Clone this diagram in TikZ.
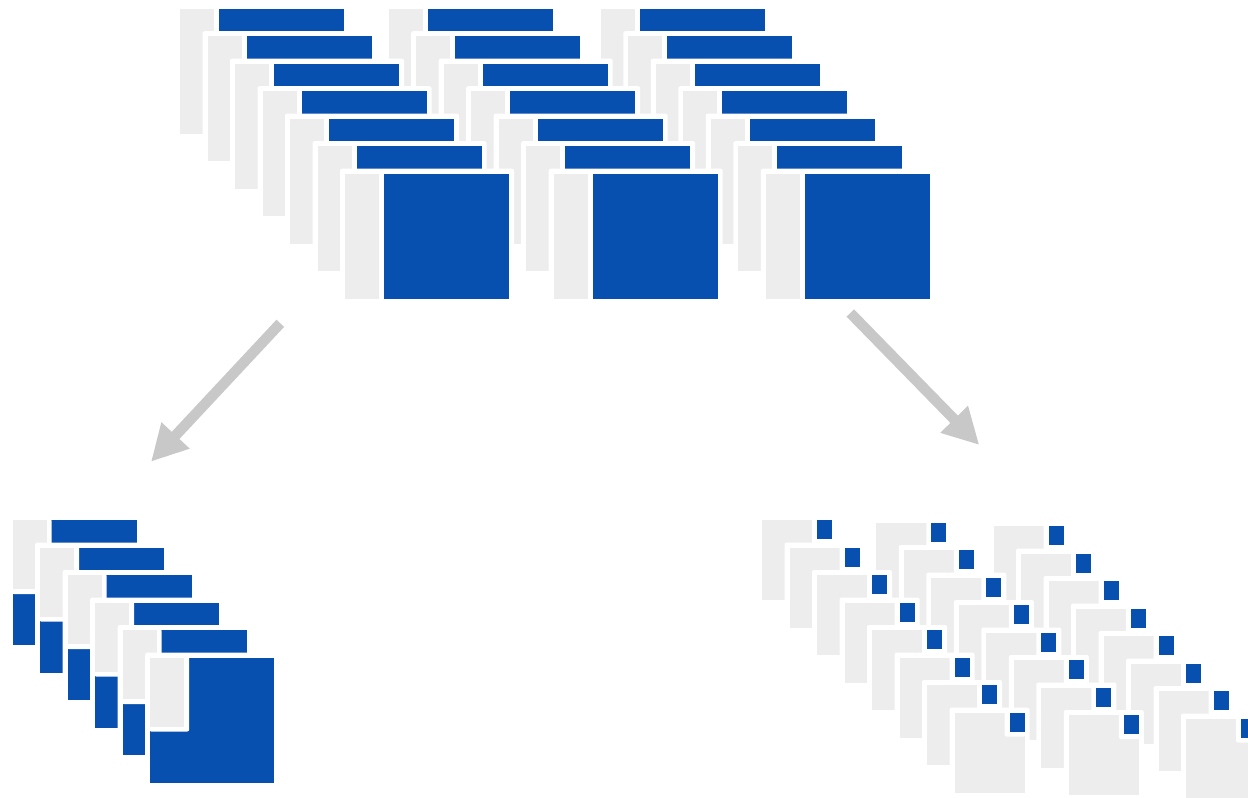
\documentclass[tikz,border=0pt]{standalone}
\usetikzlibrary{arrows.meta}
\definecolor{cardblue}{RGB}{8,80,176}
\definecolor{cardgray}{RGB}{237,237,237}
\definecolor{arrowgray}{RGB}{200,200,200}
\tikzset{
  pad/.style={fill=white, rounded corners=2pt},
  graypart/.style={fill=cardgray},
  bluepart/.style={fill=cardblue},
  flowarrow/.style={draw=arrowgray, line width=10.5pt,
    -{Triangle[width=36pt,length=36pt]}}
}
\newcommand\widecard[2]{%
  \fill[pad] (#1-5,#2-5) rectangle (#1+169,#2+130);
  \fill[graypart] (#1,#2) rectangle (#1+34,#2+125);
  \fill[bluepart] (#1+39,#2) rectangle (#1+164,#2+125);
}
\newcommand\lcard[2]{%
  \fill[pad] (#1-5,#2-5) rectangle (#1+129,#2+130);
  \fill[bluepart] (#1,#2) rectangle (#1+124,#2+125);
  \fill[pad] (#1-1,#2-1) rectangle (#1+39,#2+74);
  \fill[graypart] (#1,#2) rectangle (#1+34,#2+69);
}
\newcommand\smallcard[2]{%
  \fill[pad] (#1-5,#2-5) rectangle (#1+75,#2+85);
  \fill[graypart] (#1,#2) rectangle (#1+70,#2+80);
  \fill[pad] (#1+50,#2-1) rectangle (#1+71,#2+24);
  \fill[bluepart] (#1+55,#2) rectangle (#1+70,#2+19);
}
\begin{document}
\begin{tikzpicture}[x=1pt,y=-1pt]
\useasboundingbox (0,0) rectangle (1248,798);
\clip (0,0) rectangle (1248,798);
% top stacks, drawn right to left
\foreach \sx in {600.8,388.7,180} {
  \foreach \i in {0,...,6} {
    \pgfmathsetmacro\cx{\sx+27.5*\i}
    \pgfmathsetmacro\cy{8.7+27.5*\i}
    \widecard{\cx}{\cy}
  }
}
% bottom left stack
\foreach \i in {0,...,5} {
  \pgfmathsetmacro\cx{12.7+27.5*\i}
  \pgfmathsetmacro\cy{520+27.5*\i}
  \lcard{\cx}{\cy}
}
% bottom right stacks, drawn right to left
\foreach \sx/\sy in {993.5/526,876.3/522.5,762/520} {
  \foreach \i in {0,...,7} {
    \pgfmathsetmacro\cx{\sx+27.5*\i}
    \pgfmathsetmacro\cy{\sy+27.5*\i}
    \smallcard{\cx}{\cy}
  }
}
% arrows
\coordinate (lstart) at (280.3,323.3);
\coordinate (ltip) at (151,461.7);
\coordinate (rstart) at (850.3,313);
\coordinate (rtip) at (979.3,445);
\draw[flowarrow] (lstart) -- (ltip);
\draw[flowarrow] (rstart) -- (rtip);
\end{tikzpicture}
\end{document}
